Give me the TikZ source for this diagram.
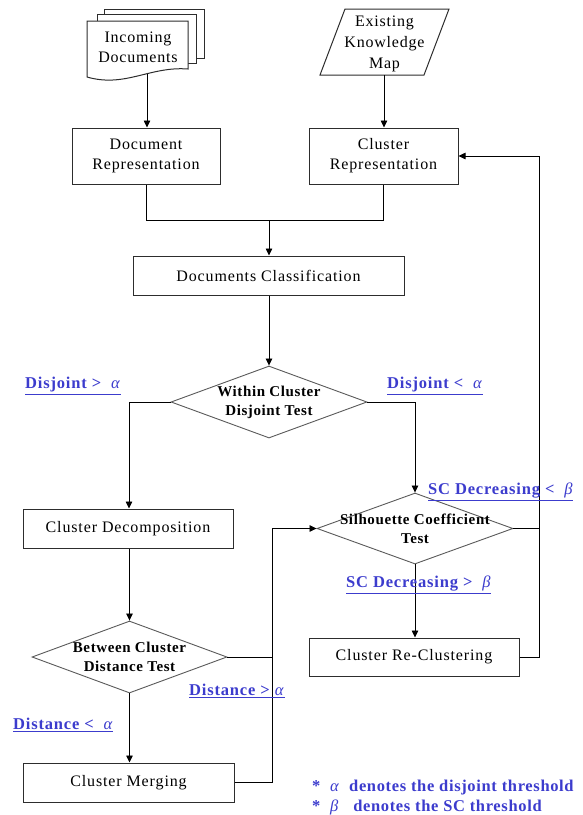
\documentclass[tikz,border=0pt]{standalone}
\usepackage{fontspec}
\setmainfont{Liberation Serif}
\usetikzlibrary{shapes.geometric,arrows.meta,calc}
\definecolor{lblue}{RGB}{60,60,205}
\definecolor{bordc}{RGB}{45,45,45}
\definecolor{diac}{RGB}{90,90,90}
\begin{document}
\begin{tikzpicture}[x=1pt,y=-1pt,
  box/.style={rectangle,draw=bordc,line width=1pt,fill=white,inner sep=0pt,align=center,font=\fontsize{16}{20}\selectfont\addfontfeatures{LetterSpace=5.5}},
  txt/.style={inner sep=0pt,align=center,font=\fontsize{16}{20}\selectfont\addfontfeatures{LetterSpace=5}},
  dia/.style={diamond,draw=diac,line width=0.9pt,inner sep=0pt,fill=white},
  dtext/.style={align=center,font=\fontsize{15}{19}\selectfont\bfseries\addfontfeatures{LetterSpace=4},inner sep=0pt},
  lbl/.style={anchor=west,inner sep=0pt,text=lblue,font=\fontsize{16.5}{20}\selectfont\bfseries\addfontfeatures{LetterSpace=5}},
  conn/.style={line width=0.8pt,black},
  arr/.style={conn,-{Triangle[length=7pt,width=6.5pt]}},
  shp/.style={draw=bordc,line width=1pt,fill=white}
]
\useasboundingbox (0,0) rectangle (583,815);

% Incoming documents (multi-document shape)
\draw[shp] (104,9) rectangle (204,58);
\draw[shp] (97,14) rectangle (196,63);
\draw[shp] (87,21) -- (188,21) -- (188,69) .. controls (150,66) and (125,88) .. (87,77) -- cycle;
\node[txt] (inc) at (138,47) {Incoming\\Documents};
\coordinate (incb) at (147,74);

% Existing knowledge map (parallelogram)
\draw[shp] (320,75) -- (345,9) -- (449,9) -- (424,75) -- cycle;
\node[txt,font=\fontsize{16}{21}\selectfont\addfontfeatures{LetterSpace=5}] (ekm) at (384.5,44) {Existing\\Knowledge\\Map};
\coordinate (ekmb) at (384,75);

% Boxes
\node[box,minimum width=148pt,minimum height=56pt] (drep) at (146,156) {Document\\Representation};
\node[box,minimum width=149pt,minimum height=56pt] (crep) at (383.5,156) {Cluster\\Representation};
\node[box,minimum width=271pt,minimum height=39pt] (dc) at (268.5,275.5) {Documents Classification};
\node[dia,minimum width=196pt,minimum height=72pt] (d1) at (269,402) {};
\node[dtext] (d1t) at (269,402) {Within Cluster\\Disjoint Test};
\node[box,minimum width=210pt,minimum height=39pt] (cdec) at (128,528.5) {Cluster Decomposition};
\node[dia,minimum width=196pt,minimum height=71pt] (sil) at (415,528.5) {};
\node[dtext] (silt) at (415,528.5) {Silhouette Coefficient\\Test};
\node[dia,minimum width=195pt,minimum height=72pt] (btw) at (129.5,657) {};
\node[dtext] (btwt) at (129.5,657) {Between Cluster\\Distance Test};
\node[box,minimum width=210pt,minimum height=38pt] (crc) at (414,657) {Cluster Re-Clustering};
\node[box,minimum width=211pt,minimum height=39pt] (cmg) at (128.5,782.5) {Cluster Merging};

% helper coordinates
\coordinate (mid) at (269,220);
\coordinate (lp) at (272,528.5);
\coordinate (fb) at (539,156);

% Connectors
\draw[arr] (incb) -- (incb |- drep.north);
\draw[arr] (ekmb) -- (ekmb |- crep.north);
\draw[conn] (drep.south) |- (mid);
\draw[conn] (crep.south) |- (mid);
\draw[arr] (mid) -- (mid |- dc.north);
\draw[arr] (dc.south -| d1.north) -- (d1.north);
\draw[arr] (d1.west) -| (129,0 |- cdec.north);
\draw[arr] (d1.east) -| (sil.north);
\draw[arr] (cdec.south -| btw.north) -- (btw.north);
\draw[arr] (btw.south) -- (btw.south |- cmg.north);
\draw[arr] (sil.south) -- (sil.south |- crc.north);
\draw[conn] (cmg.east) -| (lp);
\draw[arr] (lp) -- (sil.west);
\draw[conn] (btw.east) -- (btw.east -| lp);
\draw[conn] (crc.east) -| (fb);
\draw[arr] (fb) -- (crep.east);
\draw[conn] (sil.east) -- (sil.east -| fb);

% Labels
\node[lbl] (l1) at (25,386) {\underline{Disjoint >\ \ \textit{\mdseries α}}};
\node[lbl] (l2) at (387,386) {\underline{Disjoint <\ \ \textit{\mdseries α}}};
\node[lbl] (l3) at (428,492) {\underline{SC Decreasing <\ \ \textit{\mdseries β}}};
\node[lbl] (l4) at (346,585) {\underline{SC Decreasing >\ \ \textit{\mdseries β}}};
\node[lbl] (l5) at (189,691) {\underline{Distance >\ \textit{\mdseries α}}};
\node[lbl] (l6) at (13,725) {\underline{Distance <\ \ \textit{\mdseries α}}};
\node[lbl,font=\fontsize{16.5}{20}\selectfont\bfseries\addfontfeatures{LetterSpace=4}] (f1) at (312,788) {*\ \ \textit{\mdseries α}\ \ denotes the disjoint threshold};
\node[lbl,font=\fontsize{16.5}{20}\selectfont\bfseries\addfontfeatures{LetterSpace=4}] (f2) at (312,807) {*\ \ \textit{\mdseries β}\ \ \ denotes the SC threshold};
\end{tikzpicture}
\end{document}
